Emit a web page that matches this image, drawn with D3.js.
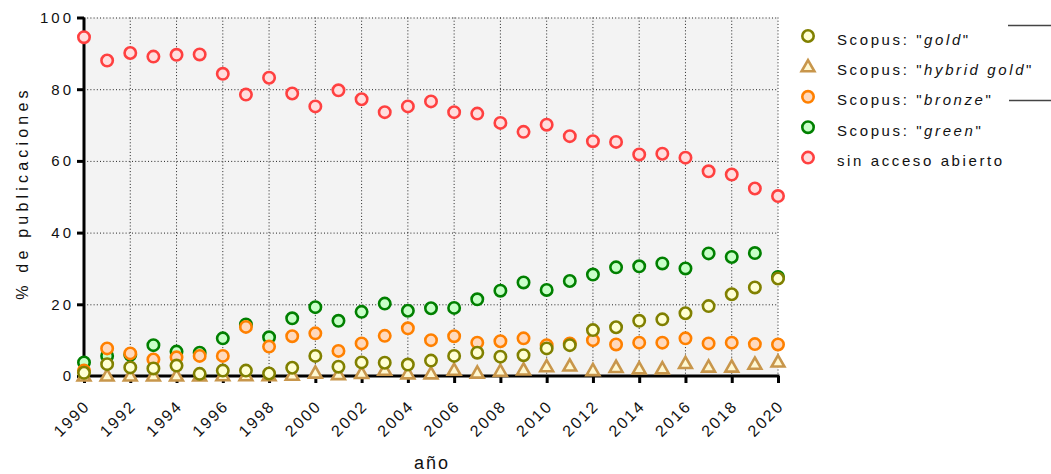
<!DOCTYPE html>
<html>
<head>
<meta charset="utf-8">
<script src="https://cdn.jsdelivr.net/npm/d3@7"></script>
<style>
  body { margin: 0; background: #fff; }
  text { font-family: 'Liberation Sans', Arial, sans-serif; fill: #111; }
</style>
</head>
<body>
<div id="chart"></div>
<script>
const years = [1990, 1991, 1992, 1993, 1994, 1995, 1996, 1997, 1998, 1999, 2000,
  2001, 2002, 2003, 2004, 2005, 2006, 2007, 2008, 2009, 2010,
  2011, 2012, 2013, 2014, 2015, 2016, 2017, 2018, 2019, 2020];

const gold = [0.9, 3.3, 2.4, 2.1, 2.9, 0.6, 1.5, 1.5, 0.7, 2.3, 5.6,
  2.6, 3.8, 3.7, 3.2, 4.3, 5.6, 6.5, 5.4, 5.8, 7.7,
  8.6, 12.8, 13.6, 15.4, 15.8, 17.5, 19.5, 22.8, 24.7, 27.2];
const hybridGold = [0.1, 0.1, 0.1, 0.1, 0.1, 0.1, 0.2, 0.2, 0.2, 0.3, 0.9,
  0.5, 0.8, 1.7, 0.7, 0.7, 1.7, 0.9, 1.4, 1.8, 2.7,
  2.9, 1.6, 2.5, 2.1, 2.1, 3.6, 2.6, 2.6, 3.4, 4.0];
const bronze = [1.5, 7.7, 6.3, 4.6, 5.2, 5.6, 5.6, 13.7, 8.2, 11.1, 11.9,
  7.0, 9.1, 11.2, 13.3, 10.0, 11.1, 9.3, 9.7, 10.5, 8.6,
  9.1, 10.0, 8.8, 9.3, 9.3, 10.5, 9.1, 9.3, 8.9, 8.8];
const green = [3.8, 5.6, 5.9, 8.6, 6.8, 6.5, 10.5, 14.4, 10.8, 16.1, 19.2,
  15.4, 17.9, 20.2, 18.2, 18.9, 19.0, 21.4, 23.8, 26.1, 24.0,
  26.5, 28.3, 30.3, 30.6, 31.4, 30.0, 34.2, 33.2, 34.3, 27.6];
const closed = [94.5, 88.0, 90.1, 89.1, 89.6, 89.7, 84.3, 78.5, 83.2, 78.8, 75.2,
  79.7, 77.2, 73.6, 75.2, 76.6, 73.6, 73.2, 70.6, 68.1, 70.1,
  66.9, 65.5, 65.3, 61.8, 62.0, 60.9, 57.1, 56.2, 52.3, 50.2];

const yTicks = [0, 20, 40, 60, 80, 100];
const xTicks = [1990, 1992, 1994, 1996, 1998, 2000, 2002, 2004, 2006, 2008,
  2010, 2012, 2014, 2016, 2018, 2020];

// legend order top to bottom; drawn in reverse so gold ends on top
const series = [
  { pre: 'Scopus: "', it: 'gold', post: '"', values: gold, shape: 'circle', stroke: '#808000', fill: '#ffffd4' },
  { pre: 'Scopus: "', it: 'hybrid gold', post: '"', values: hybridGold, shape: 'triangle', stroke: '#c8964b', fill: '#fff8d2' },
  { pre: 'Scopus: "', it: 'bronze', post: '"', values: bronze, shape: 'circle', stroke: '#ff8000', fill: '#ffd9bd' },
  { pre: 'Scopus: "', it: 'green', post: '"', values: green, shape: 'circle', stroke: '#008000', fill: '#c8ffc8' },
  { pre: 'sin acceso abierto', it: '', post: '', values: closed, shape: 'circle', stroke: '#ff4040', fill: '#ffdede' }
];

const W = 1051, H = 474;
const svg = d3.select('#chart').append('svg')
  .attr('width', W)
  .attr('height', H);

const x = d3.scaleLinear().domain([1990, 2020]).range([84, 778]);
const y = d3.scaleLinear().domain([0, 100]).range([376, 17.5]);

// plot background
svg.append('rect')
  .attr('x', x(1990)).attr('y', y(100))
  .attr('width', x(2020) - x(1990)).attr('height', y(0) - y(100))
  .attr('fill', '#f3f3f3');

// dotted grid
const grid = svg.append('g')
  .attr('stroke', '#222')
  .attr('stroke-width', 1)
  .attr('stroke-dasharray', '1,2.2');
grid.selectAll('line.h').data(yTicks.filter(d => d > 0)).enter().append('line')
  .attr('x1', x(1990)).attr('x2', x(2020))
  .attr('y1', d => y(d) + 0.5).attr('y2', d => y(d) + 0.5);
grid.selectAll('line.v').data(xTicks.filter(d => d > 1990)).enter().append('line')
  .attr('x1', d => x(d)).attr('x2', d => x(d))
  .attr('y1', y(100)).attr('y2', y(0));

// axes
const yAxis = d3.axisLeft(y).tickValues(yTicks).tickSize(7).tickFormat('');
const xAxis = d3.axisBottom(x).tickValues(xTicks).tickSize(7).tickFormat('');

const gy = svg.append('g').attr('transform', 'translate(' + x(1990) + ',0)').call(yAxis);
const gx = svg.append('g').attr('transform', 'translate(0,' + y(0) + ')').call(xAxis);
[gy, gx].forEach(g => {
  g.select('.domain').attr('stroke', '#000').attr('stroke-width', 3);
  g.selectAll('.tick line').attr('stroke', '#000').attr('stroke-width', 3);
});
gy.select('.domain').attr('d', 'M0,' + (y(0) + 1.5) + 'V' + y(100));
gx.select('.domain').attr('d', 'M' + (x(1990) - 1.5) + ',0H' + (x(2020) + 1.5));

// tick labels
svg.append('g').selectAll('text').data(yTicks).enter().append('text')
  .attr('x', 74)
  .attr('y', d => y(d))
  .attr('dy', '0.36em')
  .attr('text-anchor', 'end')
  .attr('font-size', 15)
  .attr('letter-spacing', 3)
  .text(d => d);

svg.append('g').selectAll('text').data(xTicks).enter().append('text')
  .attr('transform', d => 'translate(' + (x(d) + 7) + ',' + (y(0) + 31) + ') rotate(-45)')
  .attr('text-anchor', 'end')
  .attr('font-size', 16)
  .attr('letter-spacing', 2)
  .text(d => d);

// axis titles
svg.append('text')
  .attr('transform', 'translate(28,' + 193 + ') rotate(-90)')
  .attr('text-anchor', 'middle')
  .attr('font-size', 16)
  .attr('letter-spacing', 4.2)
  .text('% de publicaciones');

svg.append('text')
  .attr('x', 432)
  .attr('y', 469)
  .attr('text-anchor', 'middle')
  .attr('font-size', 18)
  .attr('letter-spacing', 2)
  .text('año');

// markers
const tri = 'M0,-6.3L6.4,4.9L-6.4,4.9Z';

function drawMarker(sel, s) {
  if (s.shape === 'triangle') {
    return sel.append('path').attr('d', tri);
  }
  return sel.append('circle').attr('r', 5.7);
}

const marks = svg.append('g');
series.slice().reverse().forEach(s => {
  const g = marks.append('g')
    .attr('stroke', s.stroke)
    .attr('fill', s.fill)
    .attr('stroke-width', 2.6);
  s.values.forEach((v, i) => {
    const m = drawMarker(g, s);
    if (s.shape === 'triangle') {
      m.attr('transform', 'translate(' + x(years[i]) + ',' + y(v) + ')');
    } else {
      m.attr('cx', x(years[i])).attr('cy', y(v));
    }
  });
});

// legend
const legend = svg.append('g').attr('class', 'legend');
series.forEach((s, i) => {
  const cy = 36 + i * 30.4;
  const g = legend.append('g')
    .attr('stroke', s.stroke)
    .attr('fill', s.fill)
    .attr('stroke-width', 2.6);
  const m = drawMarker(g, s);
  if (s.shape === 'triangle') m.attr('transform', 'translate(808,' + cy + ')');
  else m.attr('cx', 808).attr('cy', cy);

  const t = legend.append('text')
    .attr('x', 837)
    .attr('y', cy + 8.5)
    .attr('font-size', 15)
    .attr('letter-spacing', 2.6);
  t.append('tspan').text(s.pre);
  if (s.it) {
    t.append('tspan').attr('font-style', 'italic').text(s.it);
    t.append('tspan').text(s.post);
  }
});

// stray rule marks at top right
legend.append('line')
  .attr('x1', 1008).attr('x2', W).attr('y1', 25.5).attr('y2', 25.5)
  .attr('stroke', '#444').attr('stroke-width', 1.5);
legend.append('line')
  .attr('x1', 1009).attr('x2', W).attr('y1', 100.5).attr('y2', 100.5)
  .attr('stroke', '#444').attr('stroke-width', 1.5);
</script>
</body>
</html>
